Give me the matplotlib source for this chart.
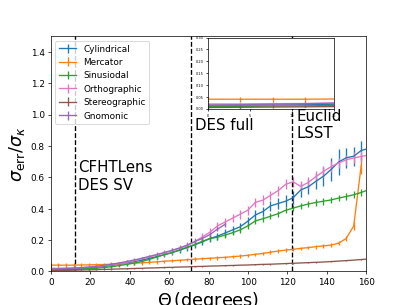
import numpy as np
import matplotlib
matplotlib.use("Agg")
import matplotlib.pyplot as plt

nan = np.nan

# angular scale of each sample (degrees)
theta = [0.0, 3.84, 7.68, 11.52, 15.36, 19.2, 23.04, 26.88, 30.72, 34.56,
         38.4, 42.24, 46.08, 49.92, 53.76, 57.6, 61.44, 65.28, 69.12, 72.96,
         76.8, 80.64, 84.48, 88.32, 92.16, 96.0, 99.84, 103.68, 107.52, 111.36,
         115.2, 119.04, 122.88, 126.72, 130.56, 134.4, 138.24, 142.08, 145.92, 149.76,
         153.6, 157.44, 161.28]

labels = ["Cylindrical", "Mercator", "Sinusiodal", "Orthographic", "Stereographic", "Gnomonic"]
colors = ["C0", "C1", "C2", "C6", "C5", "C4"]

cylindrical = [0.015, 0.015, 0.016, 0.017, 0.019, 0.022, 0.027, 0.032, 0.038, 0.045,
               0.053, 0.062, 0.072, 0.083, 0.095, 0.107, 0.12, 0.135, 0.152, 0.17,
               0.188, 0.21, 0.225, 0.245, 0.265, 0.285, 0.32, 0.36, 0.382, 0.418,
               0.433, 0.448, 0.47, 0.52, 0.54, 0.575, 0.607, 0.65, 0.698, 0.725,
               0.735, 0.772, 0.785]
cylindrical_err = [0.01, 0.01, 0.01, 0.01, 0.01, 0.012, 0.012, 0.012, 0.013, 0.013,
                   0.014, 0.014, 0.015, 0.015, 0.016, 0.016, 0.017, 0.018, 0.019, 0.02,
                   0.02, 0.022, 0.023, 0.025, 0.025, 0.027, 0.028, 0.03, 0.03, 0.032,
                   0.035, 0.038, 0.04, 0.045, 0.048, 0.05, 0.06, 0.075, 0.08, 0.065,
                   0.06, 0.06, 0.06]

mercator = [0.04, 0.04, 0.04, 0.04, 0.041, 0.042, 0.043, 0.044, 0.046, 0.048,
            0.05, 0.052, 0.055, 0.058, 0.061, 0.065, 0.068, 0.071, 0.075, 0.078,
            0.081, 0.084, 0.087, 0.09, 0.094, 0.098, 0.103, 0.109, 0.115, 0.122,
            0.13, 0.136, 0.141, 0.147, 0.152, 0.158, 0.163, 0.168, 0.18, 0.21,
            0.29, 0.68, nan]
mercator_err = [0.011, 0.011, 0.011, 0.011, 0.011, 0.011, 0.011, 0.011, 0.011, 0.011,
                0.011, 0.011, 0.011, 0.011, 0.011, 0.011, 0.011, 0.011, 0.011, 0.011,
                0.011, 0.011, 0.011, 0.011, 0.011, 0.011, 0.011, 0.011, 0.011, 0.012,
                0.012, 0.012, 0.012, 0.012, 0.012, 0.012, 0.013, 0.013, 0.014, 0.015,
                0.027, 0.06, nan]

sinusiodal = [0.01, 0.01, 0.011, 0.012, 0.014, 0.017, 0.02, 0.025, 0.03, 0.037,
              0.045, 0.053, 0.063, 0.077, 0.092, 0.108, 0.12, 0.138, 0.155, 0.172,
              0.192, 0.21, 0.218, 0.232, 0.247, 0.265, 0.29, 0.322, 0.336, 0.352,
              0.368, 0.39, 0.404, 0.418, 0.43, 0.44, 0.448, 0.456, 0.468, 0.478,
              0.489, 0.504, 0.522]
sinusiodal_err = [0.005, 0.005, 0.005, 0.005, 0.006, 0.006, 0.007, 0.007, 0.008, 0.008,
                  0.009, 0.009, 0.01, 0.01, 0.011, 0.012, 0.012, 0.013, 0.014, 0.015,
                  0.015, 0.016, 0.016, 0.017, 0.017, 0.018, 0.018, 0.019, 0.019, 0.02,
                  0.02, 0.02, 0.02, 0.02, 0.02, 0.021, 0.021, 0.021, 0.021, 0.022,
                  0.022, 0.022, 0.022]

orthographic = [0.02, 0.02, 0.021, 0.022, 0.024, 0.027, 0.031, 0.036, 0.042, 0.05,
                0.058, 0.068, 0.08, 0.092, 0.105, 0.118, 0.132, 0.148, 0.165, 0.19,
                0.22, 0.25, 0.29, 0.315, 0.34, 0.365, 0.39, 0.44, 0.455, 0.485,
                0.515, 0.555, 0.572, 0.542, 0.568, 0.605, 0.638, 0.668, 0.692, 0.712,
                0.724, 0.734, 0.742]
orthographic_err = [0.006, 0.006, 0.006, 0.007, 0.007, 0.008, 0.008, 0.009, 0.01, 0.011,
                    0.012, 0.013, 0.014, 0.015, 0.016, 0.017, 0.018, 0.019, 0.02, 0.022,
                    0.023, 0.024, 0.025, 0.026, 0.027, 0.028, 0.029, 0.03, 0.03, 0.031,
                    0.031, 0.032, 0.032, 0.032, 0.033, 0.033, 0.033, 0.034, 0.034, 0.034,
                    0.035, 0.035, 0.035]

stereographic = [0.005, 0.006, 0.007, 0.008, 0.009, 0.01, 0.011, 0.013, 0.014, 0.016,
                 0.017, 0.019, 0.02, 0.022, 0.023, 0.025, 0.026, 0.028, 0.029, 0.031,
                 0.032, 0.034, 0.035, 0.037, 0.038, 0.04, 0.041, 0.043, 0.045, 0.046,
                 0.048, 0.05, 0.052, 0.054, 0.056, 0.058, 0.06, 0.063, 0.066, 0.069,
                 0.072, 0.076, 0.08]
stereographic_err = [0.002] * 43

gnomonic = [0.015, 0.017, 0.019, 0.021, 0.024, 0.028, 0.033, 0.039, 0.046, 0.054,
            0.063, 0.073, 0.084, 0.096, 0.108, 0.121, 0.135, 0.15, 0.168, 0.19,
            0.21, 0.235, 0.27, 0.3, nan, nan, nan, nan, nan, nan,
            nan, nan, nan, nan, nan, nan, nan, nan, nan, nan,
            nan, nan, nan]
gnomonic_err = [0.005, 0.005, 0.005, 0.006, 0.006, 0.007, 0.007, 0.008, 0.008, 0.009,
                0.009, 0.01, 0.01, 0.011, 0.011, 0.012, 0.012, 0.013, 0.013, 0.014,
                0.014, 0.015, 0.015, 0.016, nan, nan, nan, nan, nan, nan,
                nan, nan, nan, nan, nan, nan, nan, nan, nan, nan,
                nan, nan, nan]

series = [cylindrical, mercator, sinusiodal, orthographic, stereographic, gnomonic]
errors = [cylindrical_err, mercator_err, sinusiodal_err, orthographic_err,
          stereographic_err, gnomonic_err]

# survey scales and their labels
survey_theta = [12, 71, 122.5]
survey_text = ["CFHTLens\nDES SV", "DES full", "Euclid\nLSST"]
survey_text_pos = [(13.7, 0.71), (73.0, 0.98), (124.5, 1.04)]

fig = plt.figure(figsize=(6.4, 4.8), dpi=63.6)
ax = fig.add_axes([0.125, 0.11, 0.775, 0.77])

for y, e, lab, c in zip(series, errors, labels, colors):
    ax.errorbar(theta, y, yerr=e, label=lab, color=c)

for t in survey_theta:
    ax.axvline(t, color="k", ls="--", lw=1.5)
for txt, (tx, ty) in zip(survey_text, survey_text_pos):
    ax.text(tx, ty, txt, fontsize=17, va="top", ha="left")

ax.set_xlim(0, 160)
ax.set_ylim(0, 1.5)
ax.set_xlabel(r"$\Theta\,$(degrees)", fontsize=20)
ax.set_ylabel(r"$\sigma_{\rm err}/\sigma_\kappa$", fontsize=20)
ax.legend(loc="upper left")

# zoom on the small-angle end
axin = fig.add_axes([0.511, 0.643, 0.31, 0.233])
for y, e, c in zip(series, errors, colors):
    axin.errorbar(theta, y, yerr=e, color=c)
axin.set_xlim(0, 15)
axin.set_ylim(0, 0.3)
axin.set_xticks([0, 5, 10, 15])
axin.set_yticks([0, 0.05, 0.1, 0.15, 0.2, 0.25, 0.3])
axin.tick_params(labelsize=4, length=2)

fig.savefig("out.png", dpi=63.6)
